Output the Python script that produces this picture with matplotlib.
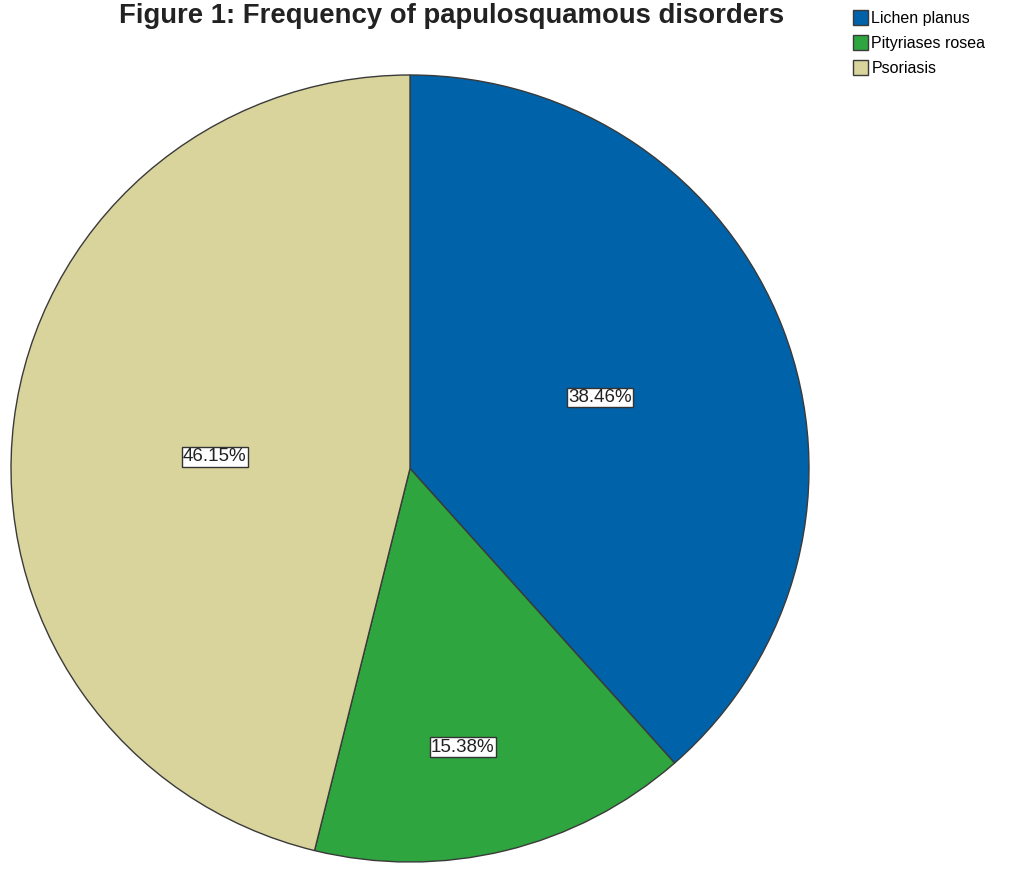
import matplotlib
matplotlib.use("Agg")
import matplotlib.pyplot as plt
import numpy as np

plt.rcParams['font.family'] = ['Liberation Sans', 'DejaVu Sans']

# data
disorders = ["Lichen planus", "Pityriases rosea", "Psoriasis"]
counts = [5, 2, 6]
colors = ["#0062a8", "#2ea53e", "#d9d49c"]
label_dist = [0.51, 0.72, 0.49]
label_shift = [0, -3.3, 3.5]   # degrees, nudge of the % labels off the mid-angle

fig = plt.figure(figsize=(10.19, 8.74), dpi=100)
W, H = 1019, 874
ax = fig.add_axes([11 / W, (H - 862) / H, 798 / W, 787 / H])

wedges, _ = ax.pie(counts, colors=colors, startangle=90, counterclock=False,
                   wedgeprops=dict(edgecolor="#3a3a3a", linewidth=1.0))
ax.set_aspect('auto')
ax.set_xlim(-1, 1)
ax.set_ylim(-1, 1)

total = sum(counts)
for w, c, d, s in zip(wedges, counts, label_dist, label_shift):
    ang = np.deg2rad((w.theta1 + w.theta2) / 2 + s)
    ax.text(d * np.cos(ang), d * np.sin(ang), f"{100 * c / total:.2f}%",
            ha="center", va="center", fontsize=13.5, color="#222222",
            bbox=dict(boxstyle="square,pad=0.06", facecolor="white",
                      edgecolor="#333333", linewidth=1.0))

fig.text(452 / W, 1 - 16 / H, "Figure 1: Frequency of papulosquamous disorders",
         ha="center", va="center", fontsize=19.8, fontweight="bold", color="#222222")

fig.legend(wedges, disorders, loc="upper left", bbox_to_anchor=(853 / W, 1 - 10 / H),
           frameon=False, fontsize=11.5, handlelength=0.95, handleheight=1.1,
           handletextpad=0.2, labelspacing=0.55, borderpad=0, borderaxespad=0)

fig.savefig("out.png", dpi=100)
